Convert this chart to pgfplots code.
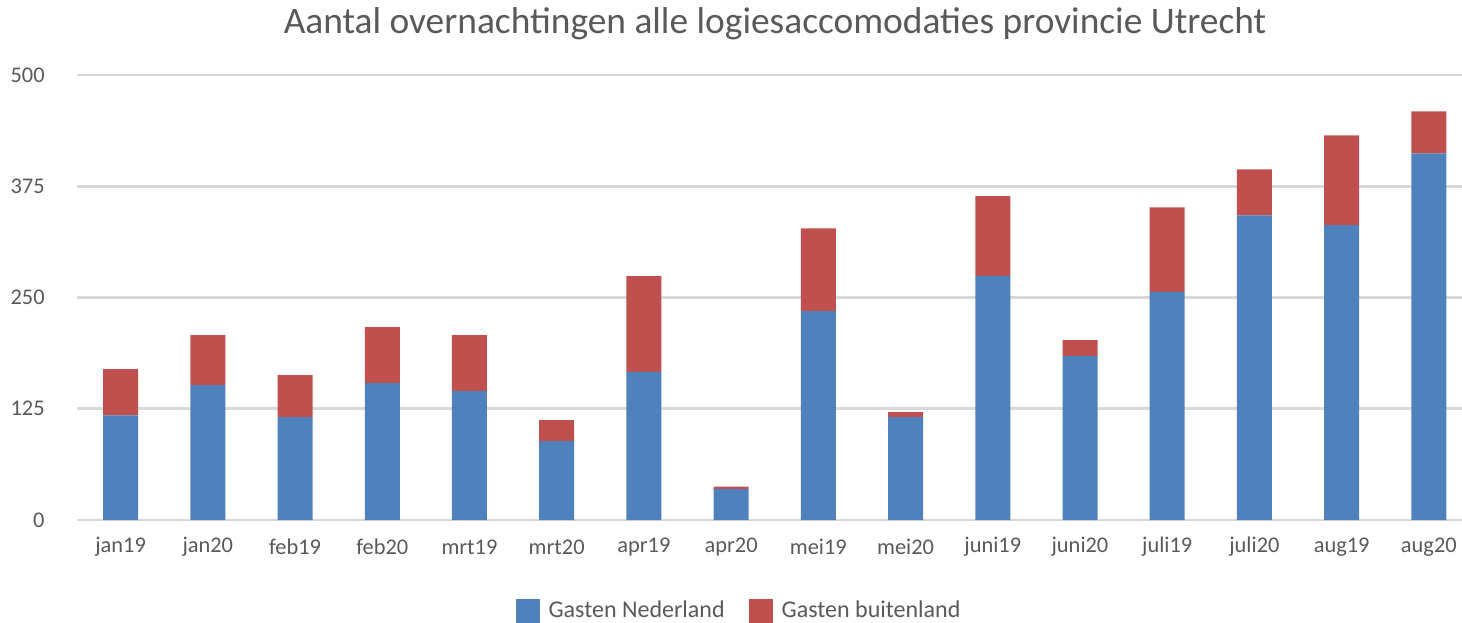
\documentclass[border=0pt]{standalone}
\usepackage{fontspec}
\setmainfont{Carlito}
\usepackage{pgfplots}
\usepackage{pgfplotstable}
\pgfplotsset{compat=1.18}
\definecolor{nlblue}{HTML}{4F81BD}
\definecolor{buitred}{HTML}{C0504D}
\definecolor{gridgray}{HTML}{D9D9D9}
\definecolor{txtgray}{HTML}{595959}
\pgfplotstableread{
x nl buiten
0 117.5 52.0
1 151.6 56.1
2 115.6 47.2
3 153.8 62.9
4 144.8 62.9
5 88.7 23.6
6 166.5 107.5
7 34.8 2.6
8 234.7 93.1
9 115.6 5.7
10 274.3 89.5
11 184.5 17.6
12 256.4 95.0
13 342.4 51.7
14 331.2 101.1
15 412.0 47.2
}\datatable
\begin{document}
\begin{tikzpicture}
\useasboundingbox (-38.5pt,-51pt) rectangle (692.5pt,260pt);
\begin{axis}[
  at={(0pt,0pt)}, anchor=south west,
  scale only axis,
  width=692.5pt, height=222.5pt,
  ybar stacked,
  bar width=17.5pt,
  xmin=-0.5, xmax=15.38,
  ymin=0, ymax=500,
  ytick={0,125,250,375,500},
  xtick=data,
  xticklabels={jan19,jan20,feb19,feb20,mrt19,mrt20,apr19,apr20,mei19,mei20,juni19,juni20,juli19,juli20,aug19,aug20},
  major tick length=0pt,
  axis line style={draw=none},
  ymajorgrids,
  major grid style={color=gridgray, line width=1.3pt},
  tick label style={font=\fontsize{11.2}{13}\selectfont, text=txtgray},
  /pgf/number format/assume math mode=true,
  xticklabel style={anchor=center, yshift=-13.5pt},
  yticklabel style={anchor=east, inner sep=0pt, xshift=-16pt},
  title={Aantal overnachtingen alle logiesaccomodaties provincie Utrecht},
  title style={font=\fontsize{18.7}{22}\selectfont, text=txtgray, at={(0.504,1)}, anchor=center, inner sep=0pt, yshift=19.5pt},
  legend columns=2,
  legend style={draw=none, at={(0.4787,-0.2045)}, anchor=center, font=\fontsize{12}{14}\selectfont, text=txtgray,
    /tikz/every even column/.append style={column sep=10pt}},
  legend cell align=left,
  legend image code/.code={\fill[#1] (0pt,-6pt) rectangle (12pt,6pt); \path (14.5pt,0pt);},
]
\addplot[fill=nlblue, draw=none] table[x=x, y=nl] {\datatable};
\addplot[fill=buitred, draw=none] table[x=x, y=buiten] {\datatable};
\addlegendentry{Gasten Nederland}
\addlegendentry{Gasten buitenland}
\draw[gridgray, line width=1.3pt] (axis cs:-0.5,0) -- (axis cs:15.38,0);
\end{axis}
\end{tikzpicture}
\end{document}
